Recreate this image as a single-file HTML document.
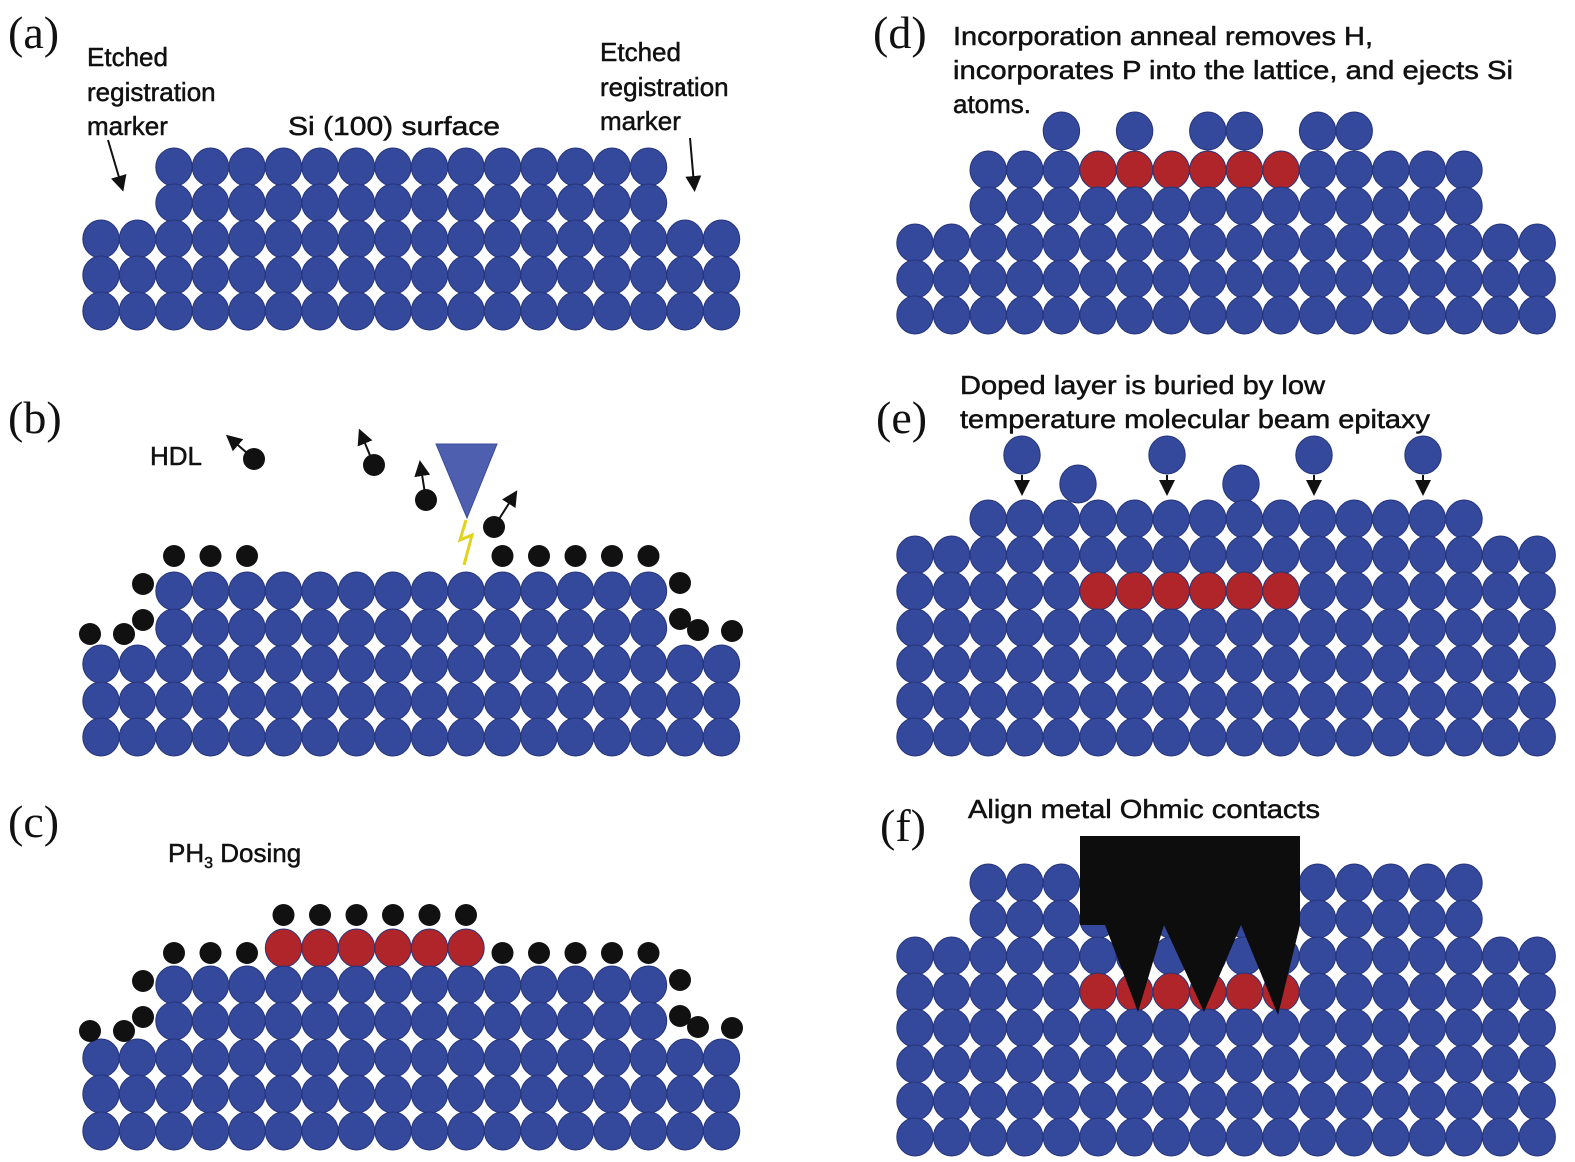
<!DOCTYPE html>
<html><head><meta charset="utf-8"><style>
html,body{margin:0;padding:0;background:#fff}
svg{display:block}
.L{font-family:"Liberation Serif",serif;font-size:46px;fill:#111}
.t{font-family:"Liberation Sans",sans-serif;font-size:26px;fill:#111;stroke:#111;stroke-width:0.5}
</style></head><body>
<svg id="s" width="1575" height="1162" viewBox="0 0 1575 1162" xmlns="http://www.w3.org/2000/svg">
<defs><marker id="ah" markerWidth="8" markerHeight="8" refX="4" refY="4" orient="auto"><path d="M0,0 L8,4 L0,8 z" fill="#111"/></marker></defs>
<g id="atoms"></g>
<text class="L" x="8" y="48">(a)</text>
<text class="L" x="8" y="433">(b)</text>
<text class="L" x="8" y="837">(c)</text>
<text class="L" x="873" y="48">(d)</text>
<text class="L" x="876" y="433">(e)</text>
<text class="L" x="880" y="841">(f)</text>
<text class="t" x="87" y="66">Etched</text>
<text class="t" x="87" y="101">registration</text>
<text class="t" x="87" y="135">marker</text>
<text class="t" x="288" y="135" textLength="212" lengthAdjust="spacingAndGlyphs">Si (100)  surface</text>
<text class="t" x="600" y="61">Etched</text>
<text class="t" x="600" y="96">registration</text>
<text class="t" x="600" y="130">marker</text>
<line x1="108" y1="140" x2="121" y2="184" stroke="#111" stroke-width="2" marker-end="url(#ah)"/>
<line x1="690" y1="138" x2="694" y2="184" stroke="#111" stroke-width="2" marker-end="url(#ah)"/>
<text class="t" x="150" y="465">HDL</text>
<polygon points="436,444 497,444 467,518" fill="#4d5fae" stroke="#3b4c9a" stroke-width="1"/>
<polyline points="466,520 460,540 472,535 464,565" fill="none" stroke="#e2d21c" stroke-width="3"/>
<text class="t" x="168" y="862">PH<tspan font-size="16" dy="6">3</tspan><tspan dy="-6"> Dosing</tspan></text>
<text class="t" x="953" y="45" textLength="420" lengthAdjust="spacingAndGlyphs">Incorporation  anneal removes H,</text>
<text class="t" x="953" y="79" textLength="560" lengthAdjust="spacingAndGlyphs">incorporates P into the lattice, and ejects Si</text>
<text class="t" x="953" y="113">atoms.</text>
<text class="t" x="960" y="394" textLength="365" lengthAdjust="spacingAndGlyphs">Doped layer is buried by low</text>
<text class="t" x="960" y="428" textLength="470" lengthAdjust="spacingAndGlyphs">temperature molecular beam epitaxy</text>
<text class="t" x="968" y="818" textLength="352" lengthAdjust="spacingAndGlyphs">Align metal Ohmic contacts</text>
<g id="top"></g>
</svg>
<script>
var NS="http://www.w3.org/2000/svg",g=document.getElementById("atoms"),tp=document.getElementById("top");
function c(x,y,r,f,p,ry){var e=document.createElementNS(NS,"ellipse");e.setAttribute("cx",x);e.setAttribute("cy",y);e.setAttribute("rx",r);e.setAttribute("ry",ry||r);e.setAttribute("fill",f);if(f!="#111"){e.setAttribute("stroke","#26357a");e.setAttribute("stroke-width","1");}(p||g).appendChild(e);}
var B="#34489c",R="#b0252a",K="#111";
function row(x0,st,a,b,y,rs){for(var i=a;i<=b;i++){var col=(rs&&i>=rs[0]&&i<=rs[1])?R:B;c(x0+i*st,y,18.2,col,null,19);}}
var L0=101,LS=36.5,R0=915,RS=36.6;
[167,203].forEach(function(y){row(L0,LS,2,15,y)});[239,275,311].forEach(function(y){row(L0,LS,0,17,y)});
[591,628].forEach(function(y){row(L0,LS,2,15,y)});[664,701,737].forEach(function(y){row(L0,LS,0,17,y)});
function hs(dy){[2,3,4,11,12,13,14,15].forEach(function(i){c(L0+i*LS,556+dy,11,K)});
[[143,584],[143,620],[124,634],[90,634],[680,583],[680,619],[698,630],[732,631]].forEach(function(p){c(p[0],p[1]+dy,11,K)});}
hs(0);
[[254,459,232,440],[374,465,362,436],[426,500,421,468],[494,527,513,497]].forEach(function(p){c(p[0],p[1],11,K);var l=document.createElementNS(NS,"line");l.setAttribute("x1",p[0]);l.setAttribute("y1",p[1]);l.setAttribute("x2",p[2]);l.setAttribute("y2",p[3]);l.setAttribute("stroke",K);l.setAttribute("stroke-width","2");l.setAttribute("marker-end","url(#ah)");g.appendChild(l);});
row(L0,LS,5,10,948,[5,10]);[5,6,7,8,9,10].forEach(function(i){c(L0+i*LS,915,11,K)});
[985,1021].forEach(function(y){row(L0,LS,2,15,y)});[1058,1094,1131].forEach(function(y){row(L0,LS,0,17,y)});
hs(397);
[4,6,8,9,11,12].forEach(function(i){c(R0+i*RS,131,18.2,B,null,19)});
row(R0,RS,2,15,170,[5,10]);row(R0,RS,2,15,206);[243,279,315].forEach(function(y){row(R0,RS,0,17,y)});
c(1078,484,18.2,B,null,19);c(1241,484,18.2,B,null,19);
[1022,1167,1314,1423].forEach(function(x){c(x,455,18.2,B,null,19);var l=document.createElementNS(NS,"line");l.setAttribute("x1",x);l.setAttribute("y1",475);l.setAttribute("x2",x);l.setAttribute("y2",488);l.setAttribute("stroke",K);l.setAttribute("stroke-width","2");l.setAttribute("marker-end","url(#ah)");g.appendChild(l);});
row(R0,RS,2,15,519);[555,591,628,664,701,737].forEach(function(y){row(R0,RS,0,17,y,y==591?[5,10]:null)});
[883,919].forEach(function(y){row(R0,RS,2,15,y)});[956,992,1028,1064,1101,1137].forEach(function(y){row(R0,RS,0,17,y,y==992?[5,10]:null)});
var pg=document.createElementNS(NS,"polygon");pg.setAttribute("points","1080,836 1300,836 1300,925 1278,1015 1241,925 1204,1012 1164,925 1138,1012 1105,925 1080,925");pg.setAttribute("fill","#0d0d0d");tp.appendChild(pg);
</script>
</body></html>
